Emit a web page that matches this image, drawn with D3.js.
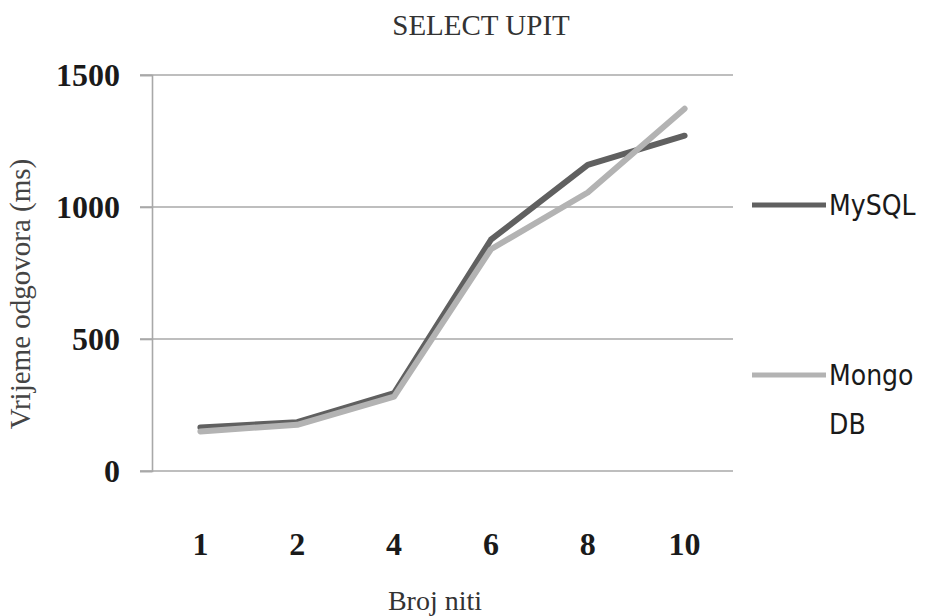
<!DOCTYPE html>
<html>
<head>
<meta charset="utf-8">
<script src="https://cdn.jsdelivr.net/npm/d3@7"></script>
<style>
  body { margin: 0; background: #fff; }
  .tick text { font-family: "Liberation Serif", serif; }
</style>
</head>
<body>
<div id="chart"></div>
<script>
var threads = ["1", "2", "4", "6", "8", "10"];
var mysqlValues = [165, 185, 295, 876, 1160, 1270];
var mongoValues = [150, 175, 282, 840, 1055, 1372];
var yTicks = [0, 500, 1000, 1500];
var seriesNames = ["MySQL", "Mongo DB"];

var margin = {top: 75, right: 196, bottom: 145, left: 152},
    width = 929 - margin.left - margin.right,
    height = 616 - margin.top - margin.bottom;

var svg = d3.select("#chart")
    .append("svg")
    .attr("width", 929)
    .attr("height", 616);

var g = svg.append("g")
    .attr("transform", "translate(" + margin.left + "," + margin.top + ")");

var x = d3.scaleBand()
    .domain(threads)
    .range([0, width]);

var y = d3.scaleLinear()
    .domain([0, 1500])
    .range([height, 0]);

// gridlines
g.append("g").selectAll("line")
    .data(yTicks)
  .enter().append("line")
    .attr("x1", -12)
    .attr("x2", width)
    .attr("y1", function(d) { return y(d); })
    .attr("y2", function(d) { return y(d); })
    .attr("stroke", "#a8a8a8")
    .attr("stroke-width", 1.6);

// y axis
var yAxis = g.append("g")
    .call(d3.axisLeft(y).tickValues(yTicks).tickFormat(d3.format("d")).tickSize(12).tickPadding(20));
yAxis.select(".domain").attr("stroke", "#a8a8a8").attr("stroke-width", 1.6);
yAxis.selectAll(".tick line").attr("stroke", "#a8a8a8").attr("stroke-width", 1.6);
yAxis.selectAll(".tick text")
    .attr("font-size", 32)
    .attr("font-weight", "bold")
    .attr("fill", "#1a1a1a");

// x axis labels
var xAxis = g.append("g")
    .attr("transform", "translate(0," + height + ")")
    .call(d3.axisBottom(x).tickSize(0).tickPadding(61));
xAxis.select(".domain").remove();
xAxis.selectAll(".tick text")
    .attr("font-size", 32)
    .attr("font-weight", "bold")
    .attr("fill", "#1a1a1a");

var line = d3.line()
    .x(function(d, i) { return x(threads[i]) + x.bandwidth() / 2; })
    .y(function(d) { return y(d); });

g.append("path")
    .datum(mysqlValues)
    .attr("fill", "none")
    .attr("stroke", "#606060")
    .attr("stroke-width", 6)
    .attr("stroke-linejoin", "round")
    .attr("stroke-linecap", "round")
    .attr("d", line);

g.append("path")
    .datum(mongoValues)
    .attr("fill", "none")
    .attr("stroke", "#b3b3b3")
    .attr("stroke-width", 6)
    .attr("stroke-linejoin", "round")
    .attr("stroke-linecap", "round")
    .attr("d", line);

// title and axis titles
svg.append("text")
    .attr("x", 481)
    .attr("y", 35)
    .attr("text-anchor", "middle")
    .attr("font-family", "Liberation Serif, serif")
    .attr("font-size", 29)
    .attr("fill", "#333")
    .text("SELECT UPIT");

svg.append("text")
    .attr("x", 435)
    .attr("y", 610)
    .attr("text-anchor", "middle")
    .attr("font-family", "Liberation Serif, serif")
    .attr("font-size", 28)
    .attr("fill", "#333")
    .text("Broj niti");

svg.append("text")
    .attr("transform", "translate(30,294) rotate(-90)")
    .attr("text-anchor", "middle")
    .attr("font-family", "Liberation Serif, serif")
    .attr("font-size", 29)
    .attr("fill", "#444")
    .text("Vrijeme odgovora (ms)");

// legend
var legend = svg.append("g");
legend.append("line")
    .attr("x1", 752).attr("x2", 826)
    .attr("y1", 205).attr("y2", 205)
    .attr("stroke", "#606060").attr("stroke-width", 5);
legend.append("text")
    .attr("x", 829).attr("y", 215)
    .attr("font-family", "DejaVu Sans Condensed, DejaVu Sans, sans-serif")
    .attr("font-stretch", "condensed")
    .attr("font-size", 28)
    .attr("fill", "#1a1a1a")
    .text(seriesNames[0]);

legend.append("line")
    .attr("x1", 752).attr("x2", 826)
    .attr("y1", 375).attr("y2", 375)
    .attr("stroke", "#b3b3b3").attr("stroke-width", 5);
var mongoLabel = legend.append("text")
    .attr("font-family", "DejaVu Sans Condensed, DejaVu Sans, sans-serif")
    .attr("font-stretch", "condensed")
    .attr("font-size", 28)
    .attr("fill", "#1a1a1a");
mongoLabel.append("tspan").attr("x", 829).attr("y", 385).text(seriesNames[1].split(" ")[0]);
mongoLabel.append("tspan").attr("x", 829).attr("y", 434).text(seriesNames[1].split(" ")[1]);
</script>
</body>
</html>
